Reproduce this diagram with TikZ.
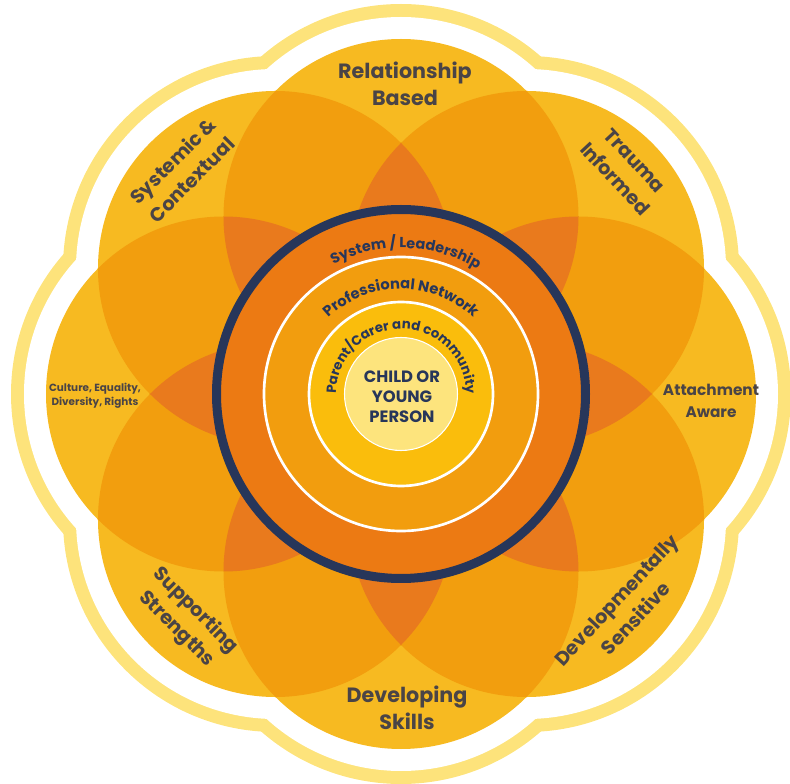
\documentclass[tikz,border=0pt]{standalone}
\usepackage{fontspec}
\setmainfont{Poppins}
\usetikzlibrary{decorations.text}
\definecolor{petal}{HTML}{F7BA21}
\definecolor{dbl}{HTML}{F29E0E}
\definecolor{trp}{HTML}{E97A1D}
\definecolor{band}{HTML}{FDE37B}
\definecolor{navy}{HTML}{27365A}
\definecolor{sysor}{HTML}{EC7A13}
\definecolor{profor}{HTML}{F29D0E}
\definecolor{parentc}{HTML}{FABD0C}
\definecolor{childc}{HTML}{FDE47D}
\definecolor{txt}{HTML}{4A4446}
\begin{document}
\begin{tikzpicture}[x=0.75pt,y=0.75pt,
  lab/.style={text=txt,align=center,inner sep=0pt,font=\bfseries\fontsize{15.5}{20.5}\selectfont},
  labd/.style={text=txt,align=center,inner sep=0pt,font=\bfseries\fontsize{14.5}{20}\selectfont},
  labs/.style={text=txt,align=center,inner sep=0pt,font=\bfseries\fontsize{7.8}{10.5}\selectfont},
  labm/.style={text=txt,align=center,inner sep=0pt,font=\bfseries\fontsize{11.5}{16}\selectfont},
  inner/.style={text=navy,align=center,inner sep=0pt,font=\bfseries\fontsize{12.3}{15}\selectfont},
  ring/.style={draw=white,line width=2pt},
  ]
\useasboundingbox (0,0) rectangle (790,783);
\begin{scope}[shift={(401,389)}]
  \foreach \k in {0,...,7}{\coordinate (P\k) at ({90+45*\k}:177.5);}
  % outer pale band
  \foreach \k in {0,...,7}{\fill[band] (P\k) circle[radius=212.5];}
  \foreach \k in {0,...,7}{\fill[white] (P\k) circle[radius=199.5];}
  % petals
  \foreach \k in {0,...,7}{\fill[petal] (P\k) circle[radius=177.5];}
  % double overlaps
  \foreach \i in {0,...,7}{\foreach \j in {0,...,7}{%
    \ifnum\i<\j
      \begin{scope}
        \clip (P\i) circle[radius=177.5];
        \fill[dbl] (P\j) circle[radius=177.5];
      \end{scope}
    \fi}}
  % triple overlaps
  \foreach \i in {0,...,7}{\foreach \j in {0,...,7}{\foreach \k in {0,...,7}{%
    \ifnum\i<\j \ifnum\j<\k
      \begin{scope}
        \clip (P\i) circle[radius=177.5];
        \clip (P\j) circle[radius=177.5];
        \fill[trp] (P\k) circle[radius=177.5];
      \end{scope}
    \fi\fi}}}
  % central rings
  \fill[sysor] (0,0) circle[radius=185];
  \draw[navy,line width=6.75pt] (0,0) circle[radius=184.5];
  \filldraw[fill=profor,ring] (0,0) circle[radius=137];
  \filldraw[fill=parentc,ring] (0,0) circle[radius=92];
  \filldraw[fill=childc,draw=white,line width=0.8pt] (0,0) circle[radius=56.5];
  % curved texts
  \path[decorate,decoration={text along path,text align=center,text color=navy,
    text={|\bfseries\fontsize{10.8}{12}\selectfont|System / Leadership}}]
    (178:146) arc[start angle=178,end angle=-2,radius=146];
  \path[decorate,decoration={text along path,text align=center,text color=navy,
    text={|\bfseries\fontsize{11}{12}\selectfont|Professional Network}}]
    (180:105) arc[start angle=180,end angle=0,radius=105];
  \path[decorate,decoration={text along path,text align=center,text color=navy,
    text={|\bfseries\fontsize{10}{12}\selectfont|Parent/Carer and community}}]
    (195:65) arc[start angle=195,end angle=-15,radius=65];
\end{scope}
% petal labels
\node[lab] (rel) at (405,699) {Relationship\\Based};
\node[labd,rotate=-47] (trauma) at (625,613) {Trauma\\Informed};
\node[labd,rotate=45] (sys) at (182,613) {Systemic \&\\Contextual};
\node[labs] (cult) at (95,387) {Culture, Equality,\\Diversity, Rights};
\node[labm] (att) at (711,382) {Attachment\\Aware};
\node[labd,rotate=-45] (sup) at (186,163) {Supporting\\Strengths};
\node[labd,rotate=47] (dev) at (626,174) {Developmentally\\Sensitive};
\node[lab] (skills) at (407,75) {Developing\\Skills};
\node[inner] (child) at (402,386) {CHILD OR\\YOUNG\\PERSON};
\end{tikzpicture}
\end{document}
